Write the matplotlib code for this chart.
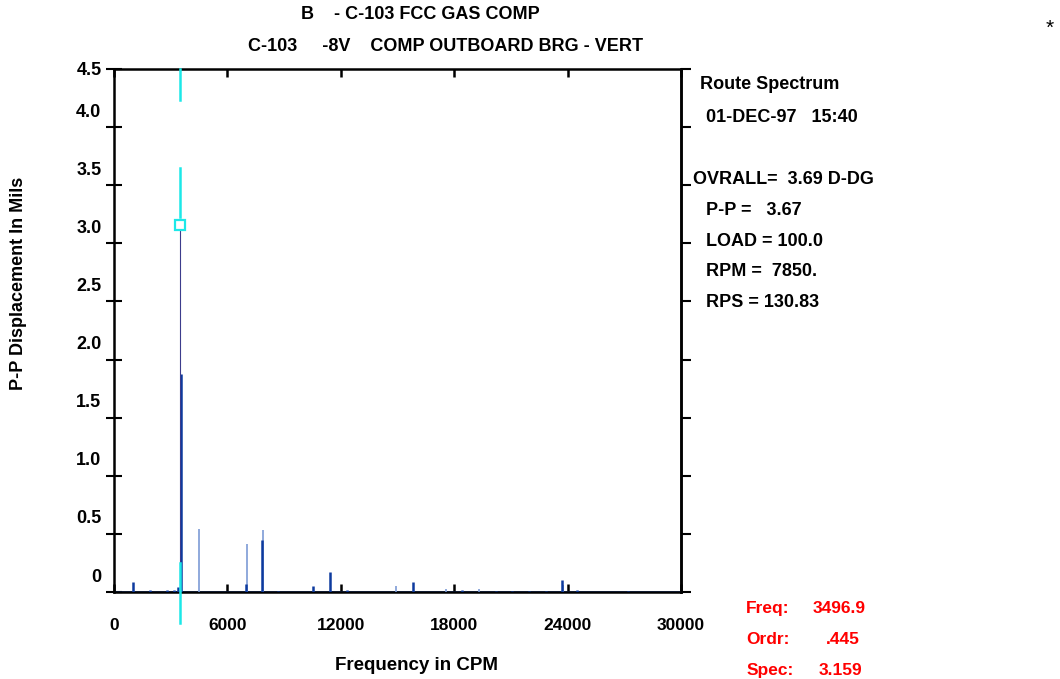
import matplotlib.pyplot as plt
from matplotlib.transforms import ScaledTranslation

plt.rcParams['font.family'] = ['Liberation Sans', 'DejaVu Sans']
plt.rcParams['font.weight'] = 'bold'
plt.rcParams['axes.labelweight'] = 'bold'

# spectre - pics principaux (trait fort) et pics fins (trait clair)
dark_freq = [990, 1900, 2800, 3200, 3380, 3550, 7000, 7850, 8700, 10545, 11430,
             12320, 15835, 18420, 20200, 21050, 21930, 22850, 23680, 24520, 27200]
dark_amp = [0.09, 0.02, 0.02, 0.02, 0.04, 1.88, 0.07, 0.45, 0.01, 0.055, 0.17,
            0.02, 0.09, 0.015, 0.01, 0.01, 0.01, 0.01, 0.1, 0.02, 0.01]
light_freq = [4497, 7040, 7880, 14920, 17550, 19310, 23730]
light_amp = [0.54, 0.41, 0.53, 0.055, 0.03, 0.03, 0.06]

# curseur
cursor_freq = 3496.9
cursor_spec = 3.159
cursor_ordr = '.445'

y_ticks = [0, 0.5, 1.0, 1.5, 2.0, 2.5, 3.0, 3.5, 4.0, 4.5]
y_labels = ['0', '0.5', '1.0', '1.5', '2.0', '2.5', '3.0', '3.5', '4.0', '4.5']
x_ticks = [0, 6000, 12000, 18000, 24000, 30000]

info_lines = ['01-DEC-97   15:40', '', 'OVRALL=  3.69 D-DG', 'P-P =   3.67',
              'LOAD = 100.0', 'RPM =  7850.', 'RPS = 130.83']

fig = plt.figure(figsize=(10.6, 6.79), dpi=100)
ax = fig.add_axes([0.1075, 0.1281, 0.535, 0.7703])

ax.plot([0, 30000], [0, 0], color='#1f4fb0', lw=1.2, zorder=2)
ax.vlines(light_freq, 0, light_amp, color='#7d9bd6', lw=1.2, zorder=3)
ax.vlines(dark_freq, 0, dark_amp, color='#0d3a9e', lw=1.8, zorder=4)
ax.vlines([cursor_freq], 0, [cursor_spec], color='#3c3c8c', lw=0.8, zorder=4)

# curseur cyan
cy = '#1ce8e8'
ax.plot([cursor_freq, cursor_freq], [4.5, 4.23], color=cy, lw=1.8, zorder=5, clip_on=False)
ax.plot([cursor_freq, cursor_freq], [3.65, cursor_spec + 0.07], color=cy, lw=1.8, zorder=5)
ax.plot([cursor_freq], [cursor_spec], marker='s', ms=7, mfc='white', mec=cy, mew=1.6, zorder=6)
ax.plot([cursor_freq, cursor_freq], [0.25, -0.27], color=cy, lw=1.8, zorder=5, clip_on=False)

ax.set_xlim(0, 30000)
ax.set_ylim(0, 4.5)
for s in ax.spines.values():
    s.set_linewidth(1.8)

ax.set_xticks(x_ticks)
ax.set_xticklabels([str(t) for t in x_ticks])
ax.tick_params(axis='x', direction='in', length=6, width=1.8, top=True,
               labelsize=12.5, pad=19)
ax.set_yticks(y_ticks)
ax.set_yticklabels(y_labels)
ax.tick_params(axis='y', direction='inout', length=12, width=1.5,
               labelsize=13, pad=3)
for lab in ax.get_yticklabels()[:-1]:
    lab.set_transform(lab.get_transform() + ScaledTranslation(0, 0.17, fig.dpi_scale_trans))

right = ax.secondary_yaxis('right')
right.set_yticks(y_ticks)
right.tick_params(direction='out', length=7, width=1.5, labelright=False)
right.spines['right'].set_linewidth(1.8)

ax.set_xlabel('Frequency in CPM', fontsize=13.5)
ax.xaxis.set_label_coords(0.533, -0.124)
ax.set_ylabel('P-P Displacement In Mils', fontsize=13)
ax.yaxis.set_label_coords(-0.153, 0.59)

fig.text(0.397, 0.978, 'B    - C-103 FCC GAS COMP', fontsize=13, ha='center', va='center')
fig.text(0.4205, 0.931, 'C-103     -8V    COMP OUTBOARD BRG - VERT', fontsize=13,
         ha='center', va='center')
fig.text(0.9905, 0.958, '*', fontsize=15, fontweight='normal', ha='center', va='center')

fig.text(0.660, 0.875, 'Route Spectrum', fontsize=13, va='center')
for i, line in enumerate(info_lines):
    x = 0.654 if line.startswith('OVRALL') else 0.666
    fig.text(x, 0.827 - i * 0.0455, line, fontsize=13, va='center')

red_keys = ['Freq:', 'Ordr:', 'Spec:']
red_vals = [f'{cursor_freq:.1f}', cursor_ordr, f'{cursor_spec:.3f}']
red_right = [0.817, 0.811, 0.813]
for i, (k, v) in enumerate(zip(red_keys, red_vals)):
    y = 0.104 - i * 0.0456
    fig.text(0.704, y, k, color='red', fontsize=12.5, va='center')
    fig.text(red_right[i], y, v, color='red', fontsize=12.5, va='center', ha='right')

fig.savefig('out.png', dpi=100)
plt.close(fig)
